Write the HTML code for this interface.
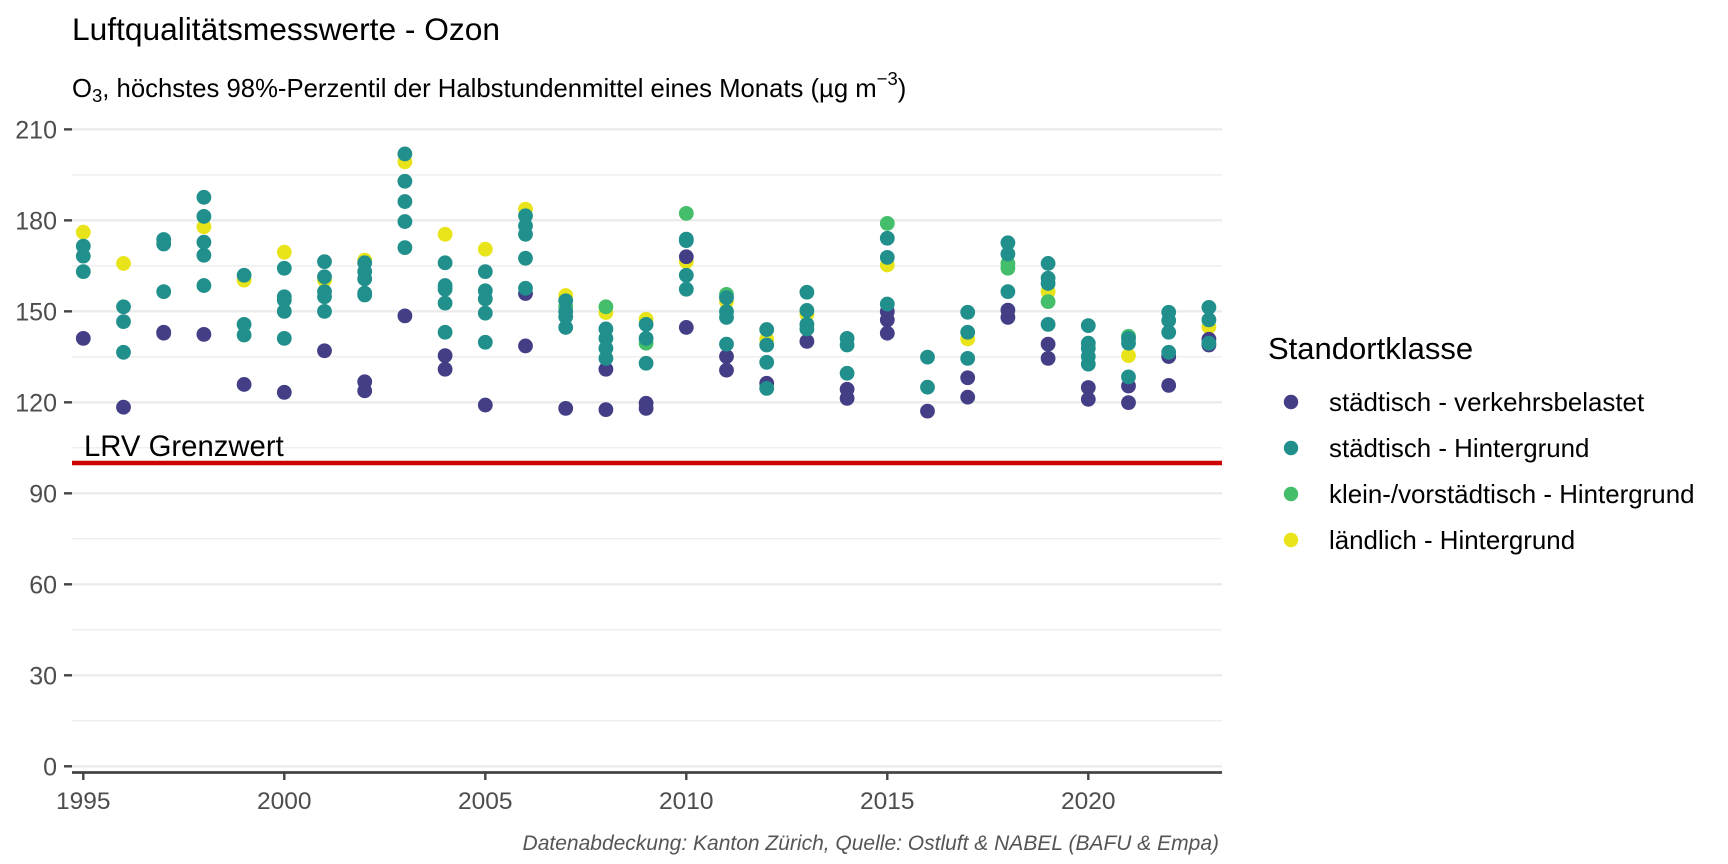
<!DOCTYPE html>
<html><head><meta charset="utf-8"><style>
html,body{margin:0;padding:0;background:#fff;}
svg{display:block;font-family:"Liberation Sans",Arial,sans-serif;}
</style></head><body>
<svg id="chart" width="1728" height="864" viewBox="0 0 1728 864" xmlns="http://www.w3.org/2000/svg">
<text x="72" y="40" font-size="31.7" fill="#000">Luftqualitätsmesswerte - Ozon</text>
<text x="72" y="97" font-size="25.7" fill="#000">O<tspan font-size="18.5" dy="5">3</tspan><tspan dy="-5">, höchstes 98%-Perzentil der Halbstundenmittel eines Monats (µg m</tspan><tspan font-size="18.5" dy="-12">−3</tspan><tspan dy="12">)</tspan></text>
<g id="grid"></g>
<g id="yaxis"></g>
<g id="xaxis"></g>
<g id="limit"></g>
<g id="points"></g>
<text x="1268" y="359" font-size="31" fill="#000">Standortklasse</text>
<g id="legend"></g>
<text x="1219" y="850" font-size="21" font-style="italic" fill="#555" text-anchor="end">Datenabdeckung: Kanton Zürich, Quelle: Ostluft &amp; NABEL (BAFU &amp; Empa)</text>
</svg>
<script>
const yTicks = [0, 30, 60, 90, 120, 150, 180, 210];
const yMinor = [15, 45, 75, 105, 135, 165, 195];
const xTicks = [1995, 2000, 2005, 2010, 2015, 2020];
const limitValue = 100;
const limitLabel = "LRV Grenzwert";
const seriesNames = ["städtisch - verkehrsbelastet", "städtisch - Hintergrund", "klein-/vorstädtisch - Hintergrund", "ländlich - Hintergrund"];

const verkYears = [1995,1996,1997,1997,1998,1999,2000,2001,2002,2002,2003,2004,2004,2005,2006,2006,2007,2008,2008,2009,2009,2010,2010,2011,2011,2012,2013,2014,2014,2015,2015,2015,2016,2017,2017,2018,2018,2019,2019,2020,2020,2021,2021,2022,2022,2023,2023];
const verkValues = [141.1,118.4,143.1,142.8,142.4,125.9,123.3,137.0,126.8,123.8,148.5,135.4,130.9,119.1,155.9,138.6,118.0,130.9,117.6,119.7,118.0,168.0,144.7,135.1,130.6,126.3,140.1,124.3,121.3,149.9,147.2,142.8,117.1,128.1,121.7,150.4,148.0,139.2,134.5,124.9,121.0,125.4,119.9,135.1,125.6,140.8,138.9];

const hintYears = [1995,1995,1995,1996,1996,1996,1997,1997,1997,1998,1998,1998,1998,1998,1999,1999,1999,2000,2000,2000,2000,2000,2001,2001,2001,2001,2001,2002,2002,2002,2002,2002,2003,2003,2003,2003,2003,2004,2004,2004,2004,2004,2005,2005,2005,2005,2005,2006,2006,2006,2006,2006,2007,2007,2007,2007,2008,2008,2008,2008,2009,2009,2009,2010,2010,2010,2010,2011,2011,2011,2011,2012,2012,2012,2012,2013,2013,2013,2013,2014,2014,2014,2015,2015,2015,2016,2016,2017,2017,2017,2018,2018,2018,2019,2019,2019,2019,2020,2020,2020,2020,2020,2021,2021,2021,2022,2022,2022,2022,2023,2023,2023];
const hintValues = [171.5,168.2,163.1,151.5,146.6,136.5,173.7,172.2,156.5,187.6,181.3,172.8,168.5,158.5,161.9,145.7,142.2,164.2,154.8,153.7,150.0,141.1,166.4,161.4,156.5,154.8,150.0,166.0,163.1,160.7,156.0,155.4,201.9,192.9,186.2,179.6,171.0,166.0,158.5,157.3,152.7,143.1,163.1,156.8,154.1,149.4,139.8,181.5,178.2,175.4,167.5,157.6,153.5,149.9,148.2,144.7,144.2,141.1,137.8,134.5,145.7,141.1,132.9,173.8,173.3,161.9,157.3,154.5,149.9,148.0,139.2,144.0,138.9,133.2,124.6,156.3,150.3,145.7,144.2,141.1,138.9,129.6,174.1,167.8,152.4,134.9,125.0,149.7,143.1,134.5,172.6,168.9,156.5,165.8,160.9,159.2,145.7,145.3,139.5,137.8,135.1,132.6,141.1,139.5,128.4,149.7,147.0,143.1,136.5,151.3,147.2,139.5];

const kleinYears = [2007,2008,2009,2010,2011,2015,2018,2018,2019,2021];
const kleinValues = [151.5,151.5,139.5,182.3,155.6,179.0,165.8,164.2,153.2,141.8];

const landYears = [1995,1996,1998,1999,2000,2001,2002,2003,2004,2005,2006,2007,2008,2009,2010,2011,2012,2013,2015,2017,2019,2021,2023];
const landValues = [176.1,165.8,177.9,160.3,169.5,160.3,166.9,199.3,175.4,170.5,183.7,155.2,149.6,147.4,166.4,153.2,140.8,149.0,165.3,140.9,156.5,135.4,144.9];

const colors = ["#433E85", "#21908C", "#45BE6B", "#E8E419"];
const NS = "http://www.w3.org/2000/svg";
const panelL = 72, panelR = 1222;
function xScale(yr){ return 83.3 + (yr - 1995) * 40.2; }
function yScale(v){ return 766.3 - v * 3.033; }
function mk(tag, attrs, parent){ const e = document.createElementNS(NS, tag); for (const k in attrs) e.setAttribute(k, attrs[k]); parent.appendChild(e); return e; }

const grid = document.getElementById('grid');
yMinor.forEach(v => {
  const l = mk('line', {x1: panelL, x2: panelR, y1: yScale(v), y2: yScale(v), stroke: '#EBEBEB', 'stroke-width': 1.2}, grid);
  
  
});
yTicks.forEach(v => {
  const l = mk('line', {x1: panelL, x2: panelR, y1: yScale(v), y2: yScale(v), stroke: '#EBEBEB', 'stroke-width': 2.4}, grid);
  
  
});
const yax = document.getElementById('yaxis');
yTicks.forEach(v => {
  const t = mk('line', {x1: 64, x2: 72, y1: yScale(v), y2: yScale(v), stroke: '#444', 'stroke-width': 2.4}, yax);
  
  
  const lb = mk('text', {x: 57, y: yScale(v) + 9, 'font-size': 25, fill: '#4D4D4D', 'text-anchor': 'end'}, yax);
  lb.textContent = v;
  
  
});
const xax = document.getElementById('xaxis');
const axl = mk('line', {x1: panelL, x2: panelR, y1: 772.5, y2: 772.5, stroke: '#444', 'stroke-width': 2.8}, xax);


xTicks.forEach(v => {
  const t = mk('line', {x1: xScale(v), x2: xScale(v), y1: 772, y2: 780, stroke: '#444', 'stroke-width': 2.4}, xax);
  
  
  const lb = mk('text', {x: xScale(v), y: 809, 'font-size': 24.5, fill: '#4D4D4D', 'text-anchor': 'middle'}, xax);
  lb.textContent = v;
  
  
});
const lim = document.getElementById('limit');
const ll = mk('line', {x1: panelL, x2: panelR, y1: yScale(limitValue), y2: yScale(limitValue), stroke: '#CC0000', 'stroke-width': 4.6}, lim);


const lt = mk('text', {x: 84, y: yScale(limitValue) - 7, 'font-size': 29.3, fill: '#000'}, lim);
lt.textContent = limitLabel;



const pts = document.getElementById('points');
const drawOrder = [[landYears, landValues, 3], [kleinYears, kleinValues, 2], [verkYears, verkValues, 0], [hintYears, hintValues, 1]];
drawOrder.forEach(([ys, vs, ci]) => {
  ys.forEach((yr, i) => {
    const c = mk('circle', {cx: xScale(yr), cy: yScale(vs[i]), r: 7.4, fill: colors[ci]}, pts);
    
    
  });
});

const leg = document.getElementById('legend');
seriesNames.forEach((n, i) => {
  const y = 402 + i * 46;
  const c = mk('circle', {cx: 1291, cy: y, r: 7.2, fill: colors[i]}, leg);
  
  
  const t = mk('text', {x: 1329, y: y + 9, 'font-size': 25.9, fill: '#000'}, leg);
  t.textContent = n;
  
  
});
</script>
</body></html>
